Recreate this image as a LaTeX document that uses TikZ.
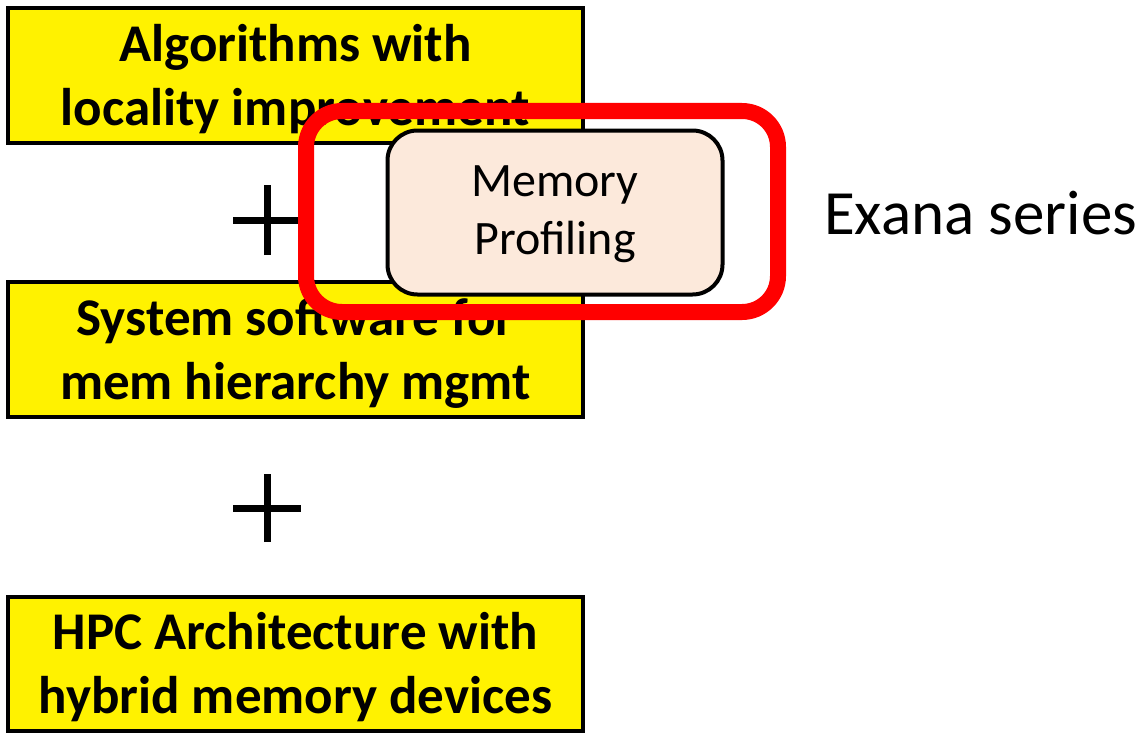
\documentclass[tikz,border=0pt]{standalone}
\usepackage{fontspec}
\setmainfont{Carlito}
\begin{document}
\begin{tikzpicture}[x=1pt,y=-1pt,
  layer/.style={draw=black, line width=4pt, fill=yellow, inner sep=0pt},
  layertext/.style={font=\fontsize{53}{64}\selectfont\bfseries, align=center, inner sep=0pt},
  profbox/.style={draw=black, line width=4pt, fill=peach, rounded corners=30pt, inner sep=0pt},
  proftext/.style={font=\fontsize{48}{58}\selectfont, align=center, inner sep=0pt},
  frame/.style={draw=red, line width=16pt, rounded corners=36pt},
  plus/.style={line width=7pt}]
\definecolor{peach}{HTML}{FCE9DB}
\useasboundingbox (0,0) rectangle (1147,733);
% three stacked layers
\node[layer, minimum width=575pt, minimum height=135pt] (alg) at (295.5,75.5) {};
\node[layertext] (algt) at ([yshift=-4pt]alg.center) {Algorithms with\\locality improvement};
\node[layer, minimum width=575pt, minimum height=135pt] (sys) at (295.5,349.5) {};
\node[layertext] (syst) at ([yshift=-4pt]sys.center) {System software for\\mem hierarchy mgmt};
\node[layer, minimum width=575pt, minimum height=134pt] (hpc) at (295.5,664) {};
\node[layertext] (hpct) at ([yshift=-3pt]hpc.center) {HPC Architecture with\\hybrid memory devices};
% plus signs between the layers
\coordinate (p1) at (267,220);
\coordinate (p2) at (267,508);
\draw[plus] ([xshift=-34pt]p1) -- ([xshift=34pt]p1) ([yshift=-35pt]p1) -- ([yshift=35pt]p1);
\draw[plus] ([xshift=-34pt]p2) -- ([xshift=34pt]p2) ([yshift=-34pt]p2) -- ([yshift=34pt]p2);
% profiling tool
\node[profbox, minimum width=335pt, minimum height=164pt] (mem) at (555,212.5) {};
\node[proftext] (memt) at ([yshift=-2pt]mem.center) {Memory\\Profiling};
\node[frame, minimum width=472pt, minimum height=201pt] (ex) at (542,211.5) {};
\node[anchor=west, font=\fontsize{63}{70}\selectfont, inner sep=0pt] (lab) at (824,213)
  {Exana series};
\end{tikzpicture}
\end{document}
